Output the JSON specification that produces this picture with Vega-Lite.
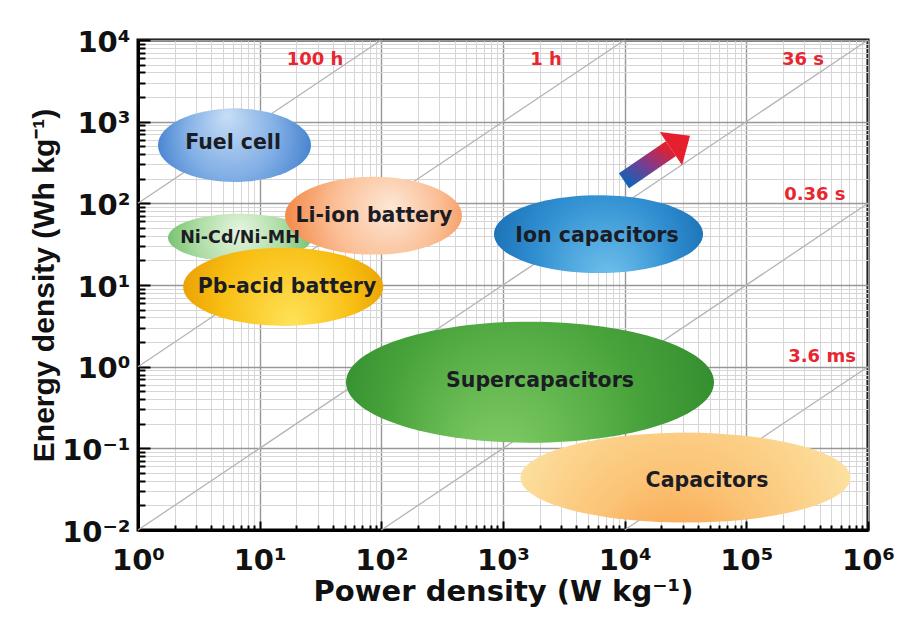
{
  "$schema": "https://vega.github.io/schema/vega-lite/v6.json",
  "width": 730,
  "height": 490,
  "autosize": {"type": "none"},
  "padding": {"left": 138, "top": 40, "right": 44, "bottom": 96},
  "background": "white",
  "config": {
    "view": {"stroke": "black", "strokeWidth": 3},
    "text": {"font": "DejaVu Sans", "fontWeight": "bold"}
  },
  "datasets": {
    "regions": [
      {"tech": "Fuel cell", "P": 6.21, "E": 515},
      {"tech": "Ni-Cd/Ni-MH", "P": 6.89, "E": 38.0},
      {"tech": "Li-ion battery", "P": 86.2, "E": 70.6},
      {"tech": "Pb-acid battery", "P": 15.6, "E": 9.55},
      {"tech": "Ion capacitors", "P": 6095, "E": 41.9},
      {"tech": "Supercapacitors", "P": 1667, "E": 0.646},
      {"tech": "Capacitors", "P": 31600, "E": 0.0437}
    ],
    "labels": [
      {"text": "Fuel cell", "P": 6.04, "E": 553},
      {"text": "Ni-Cd/Ni-MH", "P": 6.89, "E": 38.0},
      {"text": "Li-ion battery", "P": 87, "E": 70.6},
      {"text": "Pb-acid battery", "P": 16.8, "E": 9.55},
      {"text": "Ion capacitors", "P": 5925, "E": 40.2},
      {"text": "Supercapacitors", "P": 2014, "E": 0.674},
      {"text": "Capacitors", "P": 47500, "E": 0.0402}
    ],
    "lines": [
      {"P": 1, "E": 100, "P2": 100, "E2": 10000},
      {"P": 1, "E": 1, "P2": 10000, "E2": 10000},
      {"P": 1, "E": 0.01, "P2": 1000000, "E2": 10000},
      {"P": 100, "E": 0.01, "P2": 1000000, "E2": 100},
      {"P": 10000, "E": 0.01, "P2": 1000000, "E2": 1}
    ],
    "times": [
      {"text": "100 h", "P": 28.5, "E": 5740},
      {"text": "1 h", "P": 2256, "E": 5740},
      {"text": "36 s", "P": 292000, "E": 5740},
      {"text": "0.36 s", "P": 366000, "E": 127.7},
      {"text": "3.6 ms", "P": 419000, "E": 1.33}
    ],
    "arrow": [
      {"part": "tail", "P": 9870, "E": 189},
      {"part": "head", "P": 24000, "E": 467}
    ]
  },
  "encoding": {
    "x": {
      "field": "P", "type": "quantitative",
      "scale": {"type": "log", "domain": [1, 1000000], "nice": false},
      "axis": {
        "title": "Power density (W kg⁻¹)",
        "titleFont": "DejaVu Sans", "titleFontSize": 29, "titleFontWeight": "bold", "titleColor": "#111111",
        "titlePadding": -2,
        "labelFont": "DejaVu Sans", "labelFontSize": 29, "labelFontWeight": "bold", "labelColor": "#111111",
        "labelPadding": 25, "labelFlush": false, "labelOverlap": false, "labelBaseline": "top",
        "labelExpr": "indexof([1,10,100,1000,10000,100000,1000000], datum.value) >= 0 ? '10' + ['⁰','¹','²','³','⁴','⁵','⁶'][round(log(datum.value)/LN10)] : ''",
        "values": [1,2,3,4,5,6,7,8,9,10,20,30,40,50,60,70,80,90,100,200,300,400,500,600,700,800,900,1000,2000,3000,4000,5000,6000,7000,8000,9000,10000,20000,30000,40000,50000,60000,70000,80000,90000,100000,200000,300000,400000,500000,600000,700000,800000,900000,1000000],
        "domainColor": "black", "domainWidth": 3,
        "tickColor": "black", "tickWidth": 2,
        "tickSize": {"condition": {"test": "indexof([1,10,100,1000,10000,100000,1000000], datum.value) >= 0", "value": -9}, "value": -5},
        "grid": true,
        "gridColor": {"condition": {"test": "indexof([1,10,100,1000,10000,100000,1000000], datum.value) >= 0", "value": "#979797"}, "value": "#d6d6d6"},
        "gridWidth": {"condition": {"test": "indexof([1,10,100,1000,10000,100000,1000000], datum.value) >= 0", "value": 1.4}, "value": 1}
      }
    },
    "y": {
      "field": "E", "type": "quantitative",
      "scale": {"type": "log", "domain": [0.01, 10000], "nice": false},
      "axis": {
        "title": "Energy density (Wh kg⁻¹)",
        "titleFont": "Liberation Sans", "titleFontSize": 30, "titleFontWeight": "bold", "titleColor": "#111111",
        "titlePadding": 2,
        "labelFont": "DejaVu Sans", "labelFontSize": 29, "labelFontWeight": "bold", "labelColor": "#111111",
        "labelPadding": 20, "labelFlush": false, "labelOverlap": false, "labelBaseline": "middle", "labelOffset": 2,
        "labelExpr": "indexof([0.01,0.1,1,10,100,1000,10000], datum.value) >= 0 ? '10' + ['⁻²','⁻¹','⁰','¹','²','³','⁴'][round(log(datum.value)/LN10) + 2] : ''",
        "values": [0.01,0.02,0.03,0.04,0.05,0.06,0.07,0.08,0.09,0.1,0.2,0.3,0.4,0.5,0.6,0.7,0.8,0.9,1,2,3,4,5,6,7,8,9,10,20,30,40,50,60,70,80,90,100,200,300,400,500,600,700,800,900,1000,2000,3000,4000,5000,6000,7000,8000,9000,10000],
        "domainColor": "black", "domainWidth": 3,
        "tickColor": "black", "tickWidth": 2,
        "tickSize": {"condition": {"test": "indexof([0.01,0.1,1,10,100,1000,10000], datum.value) >= 0", "value": -12}, "value": -7},
        "grid": true,
        "gridColor": {"condition": {"test": "indexof([0.01,0.1,1,10,100,1000,10000], datum.value) >= 0", "value": "#979797"}, "value": "#d6d6d6"},
        "gridWidth": {"condition": {"test": "indexof([0.01,0.1,1,10,100,1000,10000], datum.value) >= 0", "value": 1.4}, "value": 1}
      }
    }
  },
  "layer": [
    {
      "data": {"name": "lines"},
      "mark": {"type": "rule", "color": "#b4b4b4", "strokeWidth": 1.3},
      "encoding": {"x2": {"field": "P2"}, "y2": {"field": "E2"}}
    },
    {
      "data": {"name": "regions"},
      "transform": [{"filter": "datum.tech == 'Fuel cell'"}],
      "mark": {"type": "point", "filled": true, "opacity": 1, "strokeWidth": 0, "size": 23409,
        "shape": "M -1 0 C -1 -0.2651 -0.5523 -0.48 0 -0.48 C 0.5523 -0.48 1 -0.2651 1 0 C 1 0.2651 0.5523 0.48 0 0.48 C -0.5523 0.48 -1 0.2651 -1 0 Z",
        "fill": {"gradient": "radial", "x1": 0.45, "y1": 0.3, "r1": 0, "x2": 0.5, "y2": 0.5, "r2": 0.55,
          "stops": [{"offset": 0, "color": "#c8def6"}, {"offset": 0.55, "color": "#80aee5"}, {"offset": 1, "color": "#3d7bcc"}]}}
    },
    {
      "data": {"name": "regions"},
      "transform": [{"filter": "datum.tech == 'Ni-Cd/Ni-MH'"}],
      "mark": {"type": "point", "filled": true, "opacity": 1, "strokeWidth": 0, "size": 20736,
        "shape": "M -1 0 C -1 -0.1839 -0.5523 -0.333 0 -0.333 C 0.5523 -0.333 1 -0.1839 1 0 C 1 0.1839 0.5523 0.333 0 0.333 C -0.5523 0.333 -1 0.1839 -1 0 Z",
        "fill": {"gradient": "radial", "x1": 0.5, "y1": 0.45, "r1": 0, "x2": 0.5, "y2": 0.5, "r2": 0.55,
          "stops": [{"offset": 0, "color": "#e6f5e0"}, {"offset": 0.55, "color": "#acdca3"}, {"offset": 1, "color": "#6cbc66"}]}}
    },
    {
      "data": {"name": "regions"},
      "transform": [{"filter": "datum.tech == 'Li-ion battery'"}],
      "mark": {"type": "point", "filled": true, "opacity": 1, "strokeWidth": 0, "size": 31329,
        "shape": "M -1 0 C -1 -0.243 -0.5523 -0.44 0 -0.44 C 0.5523 -0.44 1 -0.243 1 0 C 1 0.243 0.5523 0.44 0 0.44 C -0.5523 0.44 -1 0.243 -1 0 Z",
        "fill": {"gradient": "radial", "x1": 0.6, "y1": 0.45, "r1": 0, "x2": 0.55, "y2": 0.5, "r2": 0.6,
          "stops": [{"offset": 0, "color": "#fde7d6"}, {"offset": 0.5, "color": "#fbbf96"}, {"offset": 1, "color": "#f2803c"}]}}
    },
    {
      "data": {"name": "regions"},
      "transform": [{"filter": "datum.tech == 'Pb-acid battery'"}],
      "mark": {"type": "point", "filled": true, "opacity": 1, "strokeWidth": 0, "size": 40000,
        "shape": "M -1 0 C -1 -0.2154 -0.5523 -0.39 0 -0.39 C 0.5523 -0.39 1 -0.2154 1 0 C 1 0.2154 0.5523 0.39 0 0.39 C -0.5523 0.39 -1 0.2154 -1 0 Z",
        "fill": {"gradient": "radial", "x1": 0.55, "y1": 0.7, "r1": 0, "x2": 0.5, "y2": 0.5, "r2": 0.6,
          "stops": [{"offset": 0, "color": "#ffe35a"}, {"offset": 0.55, "color": "#f8be12"}, {"offset": 1, "color": "#e39500"}]}}
    },
    {
      "data": {"name": "regions"},
      "transform": [{"filter": "datum.tech == 'Ion capacitors'"}],
      "mark": {"type": "point", "filled": true, "opacity": 1, "strokeWidth": 0, "size": 43681,
        "shape": "M -1 0 C -1 -0.2055 -0.5523 -0.372 0 -0.372 C 0.5523 -0.372 1 -0.2055 1 0 C 1 0.2055 0.5523 0.372 0 0.372 C -0.5523 0.372 -1 0.2055 -1 0 Z",
        "fill": {"gradient": "radial", "x1": 0.55, "y1": 0.75, "r1": 0, "x2": 0.5, "y2": 0.5, "r2": 0.6,
          "stops": [{"offset": 0, "color": "#74c4ee"}, {"offset": 0.55, "color": "#2f8ed0"}, {"offset": 1, "color": "#1465aa"}]}}
    },
    {
      "data": {"name": "regions"},
      "transform": [{"filter": "datum.tech == 'Capacitors'"}],
      "mark": {"type": "point", "filled": true, "opacity": 1, "strokeWidth": 0, "size": 108900,
        "shape": "M -1 0 C -1 -0.1502 -0.5523 -0.272 0 -0.272 C 0.5523 -0.272 1 -0.1502 1 0 C 1 0.1502 0.5523 0.272 0 0.272 C -0.5523 0.272 -1 0.1502 -1 0 Z",
        "fill": {"gradient": "radial", "x1": 0.45, "y1": 0.9, "r1": 0, "x2": 0.5, "y2": 0.6, "r2": 0.6,
          "stops": [{"offset": 0, "color": "#f78d32"}, {"offset": 0.45, "color": "#fbc375"}, {"offset": 1, "color": "#fde9ad"}]}}
    },
    {
      "data": {"name": "regions"},
      "transform": [{"filter": "datum.tech == 'Supercapacitors'"}],
      "mark": {"type": "point", "filled": true, "opacity": 1, "strokeWidth": 0, "size": 135424,
        "shape": "M -1 0 C -1 -0.1817 -0.5523 -0.329 0 -0.329 C 0.5523 -0.329 1 -0.1817 1 0 C 1 0.1817 0.5523 0.329 0 0.329 C -0.5523 0.329 -1 0.1817 -1 0 Z",
        "fill": {"gradient": "radial", "x1": 0.4, "y1": 0.75, "r1": 0, "x2": 0.5, "y2": 0.5, "r2": 0.6,
          "stops": [{"offset": 0, "color": "#86d06a"}, {"offset": 0.55, "color": "#4aa43c"}, {"offset": 1, "color": "#2a852a"}]}}
    },
    {
      "data": {"name": "labels"},
      "transform": [{"filter": "datum.text != 'Ni-Cd/Ni-MH'"}],
      "mark": {"type": "text", "fontSize": 20.5, "fontWeight": "bold", "font": "DejaVu Sans", "color": "#1c1c24", "align": "center", "baseline": "middle"},
      "encoding": {"text": {"field": "text"}}
    },
    {
      "data": {"name": "labels"},
      "transform": [{"filter": "datum.text == 'Ni-Cd/Ni-MH'"}],
      "mark": {"type": "text", "fontSize": 17.5, "fontWeight": "bold", "font": "DejaVu Sans", "color": "#1c1c24", "align": "center", "baseline": "middle"},
      "encoding": {"text": {"field": "text"}}
    },
    {
      "data": {"name": "times"},
      "mark": {"type": "text", "fontSize": 18, "fontWeight": "bold", "font": "DejaVu Sans", "color": "#e8262f", "align": "center", "baseline": "middle"},
      "encoding": {"text": {"field": "text"}}
    },
    {
      "data": {"name": "arrow"},
      "mark": {"type": "line", "strokeWidth": 18, "strokeCap": "butt",
        "stroke": {"gradient": "linear", "x1": 0, "y1": 1, "x2": 1, "y2": 0,
          "stops": [{"offset": 0, "color": "#1262b4"}, {"offset": 0.5, "color": "#7d3c8e"}, {"offset": 1, "color": "#e51f2e"}]}}
    },
    {
      "data": {"name": "arrow"},
      "transform": [{"filter": "datum.part == 'head'"}],
      "mark": {"type": "point", "filled": true, "opacity": 1, "strokeWidth": 0, "size": 1600, "angle": 56,
        "shape": "M -1 0 L 0 -1.15 L 1 0 Z", "color": "#e51f2e"}
    }
  ]
}
